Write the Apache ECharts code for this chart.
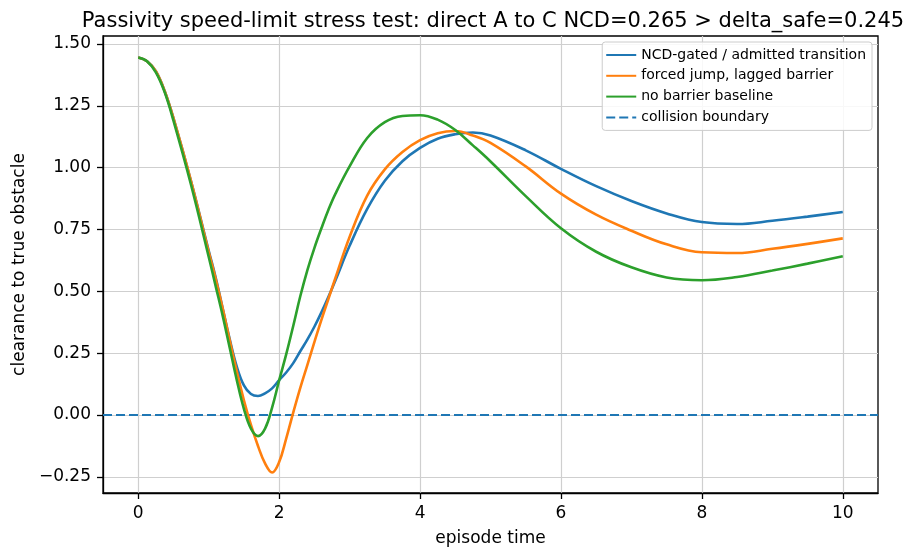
<!DOCTYPE html>
<html>
<head>
<meta charset="utf-8">
<script src="https://cdn.jsdelivr.net/npm/echarts@6/dist/echarts.min.js"></script>
<style>
    html, body { margin: 0; padding: 0; background: #fff; }
    #box { width: 905px; height: 549px; }
</style>
</head>
<body>
<div id="box"></div>
<script>
// episode time samples (shared by all three curves)
var times = [0, 0.125, 0.25, 0.375, 0.5, 0.75, 1.0, 1.1, 1.2, 1.3, 1.4, 1.5, 1.6, 1.7, 1.8, 1.9, 2.0, 2.1, 2.2, 2.3, 2.4, 2.5,
    2.6, 2.7, 2.8, 3.0, 3.25, 3.5, 3.75, 4.0, 4.25, 4.5, 4.75, 5.0, 5.5, 6.0, 6.5, 7.0, 7.5, 8.0, 8.5, 9.0, 9.5, 10.0];

// NCD-gated / admitted transition
var gated = [1.445, 1.43, 1.39, 1.31, 1.2, 0.945, 0.665, 0.555, 0.43, 0.305, 0.195, 0.12, 0.085, 0.077, 0.088, 0.108, 0.141, 0.172,
    0.21, 0.258, 0.305, 0.357, 0.415, 0.478, 0.545, 0.684, 0.833, 0.947, 1.026, 1.08, 1.117, 1.135, 1.142, 1.13,
    1.07, 0.995, 0.925, 0.865, 0.815, 0.78, 0.772, 0.785, 0.802, 0.821];

// forced jump, lagged barrier
var forced = [1.445, 1.43, 1.39, 1.31, 1.2, 0.945, 0.66, 0.55, 0.43, 0.30, 0.175, 0.06, -0.04, -0.125, -0.195, -0.232, -0.19, -0.095,
    0.01, 0.11, 0.202, 0.295, 0.385, 0.47, 0.555, 0.72, 0.887, 0.993, 1.063, 1.111, 1.139, 1.148, 1.13, 1.10,
    1.005, 0.895, 0.81, 0.745, 0.69, 0.658, 0.655, 0.672, 0.692, 0.714];

// no barrier baseline
var baseline = [1.445, 1.43, 1.385, 1.305, 1.19, 0.93, 0.64, 0.52, 0.40, 0.27, 0.14, 0.025, -0.055, -0.085, -0.055, 0.03, 0.14, 0.245,
    0.36, 0.48, 0.585, 0.675, 0.755, 0.83, 0.895, 1.005, 1.12, 1.184, 1.209, 1.212, 1.194, 1.152, 1.09, 1.025,
    0.885, 0.755, 0.66, 0.597, 0.556, 0.545, 0.558, 0.584, 0.612, 0.642];

// collision boundary
var boundaryX = [-0.5, 10.5];
var boundaryY = [0, 0];

// tick labels
var xTicks = [0, 2, 4, 6, 8, 10];
var yTicks = [-0.25, 0, 0.25, 0.5, 0.75, 1.0, 1.25, 1.5];

var pairs = function (xs, ys) {
    return xs.map(function (x, i) {
        return [x, ys[i]];
    });
};

var lineChart = function () {
    var myChart = echarts.init(document.getElementById('box'));
    var font = 'DejaVu Sans';
    // legend icons: plain line, and a dashed one for the boundary
    var solidIcon = 'path://M0,0H30V2H0Z';
    var dashIcon = 'path://M0,0H9V2H0Z M13,0H22V2H13Z M26,0H30V2H26Z';

    var curve = function (name, color, ys) {
        return {
            name: name,
            type: 'line',
            data: pairs(times, ys),
            showSymbol: false,
            symbol: 'none',
            smooth: 0.4,
            lineStyle: { color: color, width: 2.6 },
            itemStyle: { color: color },
            z: 3
        };
    };

    var options = {
        animation: false,
        title: {
            text: 'Passivity speed-limit stress test: direct A to C NCD=0.265 > delta_safe=0.245',
            left: 488,
            textAlign: 'center',
            top: 6,
            textStyle: { fontFamily: font, fontSize: 21, fontWeight: 'normal', color: '#000' }
        },
        grid: {
            left: 103,
            right: 27,
            top: 36,
            bottom: 56,
            outerBoundsMode: 'none',
            show: true,
            borderColor: '#000',
            borderWidth: 1.3
        },
        legend: {
            orient: 'vertical',
            right: 33,
            top: 42,
            padding: [5, 6, 5, 4],
            itemWidth: 30,
            itemHeight: 2,
            itemGap: 4.8,
            backgroundColor: 'rgba(255,255,255,0.85)',
            borderColor: '#cccccc',
            borderWidth: 1,
            borderRadius: 3,
            textStyle: { fontFamily: font, fontSize: 14, lineHeight: 16, color: '#000' },
            data: [
                { name: 'NCD-gated / admitted transition', icon: solidIcon, itemStyle: { color: '#1f77b4' } },
                { name: 'forced jump, lagged barrier', icon: solidIcon, itemStyle: { color: '#ff7f0e' } },
                { name: 'no barrier baseline', icon: solidIcon, itemStyle: { color: '#2ca02c' } },
                { name: 'collision boundary', icon: dashIcon, itemStyle: { color: '#1f77b4' } }
            ]
        },
        xAxis: {
            type: 'value',
            min: -0.5,
            max: 10.5,
            name: 'episode time',
            nameLocation: 'middle',
            nameGap: 37,
            nameTextStyle: { fontFamily: font, fontSize: 17, color: '#000' },
            axisLine: { show: true, onZero: false, lineStyle: { color: '#000', width: 1.3 } },
            axisTick: { show: true, length: 6, lineStyle: { color: '#000', width: 1.3 }, customValues: xTicks },
            axisLabel: { fontFamily: font, fontSize: 17, color: '#000', margin: 12, customValues: xTicks },
            splitLine: { show: true, lineStyle: { color: '#cfcfcf', width: 1.2 }, customValues: xTicks }
        },
        yAxis: {
            type: 'value',
            min: -0.315,
            max: 1.532,
            name: 'clearance to true obstacle',
            nameLocation: 'middle',
            nameGap: 71,
            nameTextStyle: { fontFamily: font, fontSize: 17, color: '#000' },
            axisLine: { show: true, onZero: false, lineStyle: { color: '#000', width: 1.3 } },
            axisTick: { show: true, length: 6, lineStyle: { color: '#000', width: 1.3 }, customValues: yTicks },
            axisLabel: {
                fontFamily: font, fontSize: 17, color: '#000', margin: 12, customValues: yTicks,
                formatter: function (v) {
                    return (v < 0 ? '\u2212' : '') + Math.abs(v).toFixed(2);
                }
            },
            splitLine: { show: true, lineStyle: { color: '#cfcfcf', width: 1.2 }, customValues: yTicks }
        },
        series: [
            curve('NCD-gated / admitted transition', '#1f77b4', gated),
            curve('forced jump, lagged barrier', '#ff7f0e', forced),
            curve('no barrier baseline', '#2ca02c', baseline),
            {
                name: 'collision boundary',
                type: 'line',
                data: pairs(boundaryX, boundaryY),
                showSymbol: false,
                symbol: 'none',
                lineStyle: { color: '#1f77b4', width: 2, type: [9, 4] },
                itemStyle: { color: '#1f77b4' },
                z: 2
            }
        ]
    };
    myChart.setOption(options);
};

lineChart();
</script>
</body>
</html>
